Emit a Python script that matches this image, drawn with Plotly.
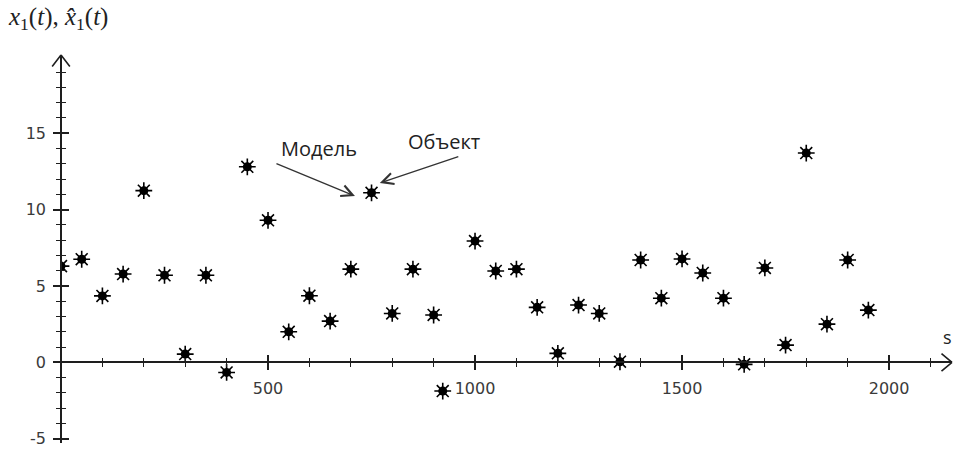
import plotly.graph_objects as go

# ---------------- data ----------------
s_values = [0, 50, 100, 150, 200, 250, 300, 350, 400, 450,
            500, 550, 600, 650, 700, 750, 800, 850, 900, 922,
            1000, 1050, 1100, 1150, 1200, 1250, 1300, 1350, 1400, 1450,
            1500, 1550, 1600, 1650, 1700, 1750, 1800, 1850, 1900, 1950]
x_object = [6.3, 6.75, 4.35, 5.78, 11.24, 5.7, 0.54, 5.7, -0.66, 12.8,
            9.3, 2.0, 4.36, 2.7, 6.1, 11.1, 3.2, 6.1, 3.1, -1.88,
            7.94, 5.98, 6.1, 3.6, 0.59, 3.75, 3.2, 0.04, 6.7, 4.2,
            6.77, 5.85, 4.2, -0.13, 6.18, 1.13, 13.7, 2.5, 6.7, 3.42]
x_model = [6.3, 6.75, 4.35, 5.78, 11.24, 5.7, 0.54, 5.7, -0.66, 12.8,
           9.3, 2.0, 4.36, 2.7, 6.1, 11.1, 3.2, 6.1, 3.1, -1.88,
           7.94, 5.98, 6.1, 3.6, 0.59, 3.75, 3.2, 0.04, 6.7, 4.2,
           6.77, 5.85, 4.2, -0.13, 6.18, 1.13, 13.7, 2.5, 6.7, 3.42]
x_ticks = [500, 1000, 1500, 2000]
y_ticks = [-5, 0, 5, 10, 15]

# ---------------- axes geometry ----------------
X_MAX = 2152
Y_MIN, Y_MAX = -5.28, 20.12
x_axis_pos = (0 - Y_MIN) / (Y_MAX - Y_MIN)

AX = '#1e1e1e'
tick_font = dict(family='DejaVu Sans', size=16, color='#3a3a3a')
x_minor = [v for v in range(100, 2200, 100) if v not in x_ticks]
y_minor = [v for v in range(-5, 20) if v not in y_ticks]

fig = go.Figure()
fig.add_trace(go.Scatter(x=s_values, y=x_object, mode='markers', name='Объект',
                         marker=dict(symbol='asterisk-open', size=14, color='black',
                                     line=dict(color='black', width=1.6)),
                         showlegend=False, xaxis='x', yaxis='y'))
fig.add_trace(go.Scatter(x=s_values, y=x_model, mode='markers', name='Модель',
                         marker=dict(symbol='circle', size=9, color='black'),
                         showlegend=False, xaxis='x2', yaxis='y2'))

xa = dict(range=[0, X_MAX], domain=[0, 1], anchor='free', position=x_axis_pos,
          showgrid=False, zeroline=False, fixedrange=True)
ya = dict(range=[Y_MIN, Y_MAX], domain=[0, 1], anchor='free', position=0,
          showgrid=False, zeroline=False, fixedrange=True)

fig.update_layout(
    width=954, height=450,
    margin=dict(l=61, r=2, t=55, b=7),
    paper_bgcolor='white', plot_bgcolor='white',
    xaxis=dict(**xa, showline=True, linecolor=AX, linewidth=1.6,
               tickmode='array', tickvals=x_ticks, ticktext=[str(v) for v in x_ticks],
               ticks='outside', ticklen=7, tickwidth=1.6, tickcolor=AX,
               tickfont=tick_font, ticklabelstandoff=5,
               minor=dict(tickmode='array', tickvals=x_minor, ticks='outside',
                          ticklen=4, tickwidth=1.4, tickcolor=AX)),
    xaxis2=dict(**xa, overlaying='x', showline=False, showticklabels=False,
                tickmode='array', tickvals=x_ticks,
                ticks='inside', ticklen=7, tickwidth=1.6, tickcolor=AX,
                minor=dict(tickmode='array', tickvals=x_minor, ticks='inside',
                           ticklen=4, tickwidth=1.4, tickcolor=AX)),
    yaxis=dict(**ya, showline=True, linecolor=AX, linewidth=1.6,
               tickmode='array', tickvals=y_ticks, ticktext=[str(v) for v in y_ticks],
               ticks='outside', ticklen=7, tickwidth=1.6, tickcolor=AX,
               tickfont=tick_font, ticklabelstandoff=4,
               minor=dict(tickmode='array', tickvals=y_minor, ticks='outside',
                          ticklen=4, tickwidth=1.4, tickcolor=AX)),
    yaxis2=dict(**ya, overlaying='y', showline=False, showticklabels=False,
                tickmode='array', tickvals=y_ticks,
                ticks='inside', ticklen=7, tickwidth=1.6, tickcolor=AX,
                minor=dict(tickmode='array', tickvals=y_minor, ticks='inside',
                           ticklen=4, tickwidth=1.4, tickcolor=AX)),
)

annotations = []
# axis arrowheads (two wings each)
for ax_off, ay_off in [(-12, -10), (-12, 10)]:
    annotations.append(dict(x=X_MAX, y=0, xref='x', yref='y', text='', showarrow=True,
                            arrowhead=0, arrowwidth=1.6, arrowcolor=AX, ax=ax_off, ay=ay_off))
for ax_off, ay_off in [(-10, 13), (10, 13)]:
    annotations.append(dict(x=0, y=Y_MAX, xref='x', yref='y', text='', showarrow=True,
                            arrowhead=0, arrowwidth=1.6, arrowcolor=AX, ax=ax_off, ay=ay_off))

label_font = dict(family='Open Sans', size=20, color='#222222')
# pointer arrows
annotations.append(dict(x=710, y=10.89, xref='x', yref='y', text='', showarrow=True,
                        arrowhead=5, arrowwidth=1.3, arrowsize=1.7, arrowcolor='#333333',
                        ax=-80, ay=-33))
annotations.append(dict(x=770, y=11.74, xref='x', yref='y', text='', showarrow=True,
                        arrowhead=5, arrowwidth=1.3, arrowsize=1.7, arrowcolor='#333333',
                        ax=80, ay=-27))
annotations.append(dict(x=624, y=13.97, xref='x', yref='y', text='Модель', showarrow=False,
                        font=label_font, xanchor='center', yanchor='middle'))
annotations.append(dict(x=924, y=14.49, xref='x', yref='y', text='Объект', showarrow=False,
                        font=label_font, xanchor='center', yanchor='middle'))
annotations.append(dict(x=2142, y=1.66, xref='x', yref='y', text='s', showarrow=False,
                        font=dict(family='Open Sans', size=18, color='#222222'),
                        xanchor='center', yanchor='middle'))
annotations.append(dict(x=-55 / 891, y=1.095, xref='paper', yref='paper',
                        text='<i>x</i><sub>1</sub>(<i>t</i>), <i>x̂</i><sub>1</sub>(<i>t</i>)',
                        showarrow=False, xanchor='left', yanchor='middle',
                        font=dict(family='Liberation Serif', size=25, color='#222222')))
fig.update_layout(annotations=annotations)

fig.write_html('out.html')
